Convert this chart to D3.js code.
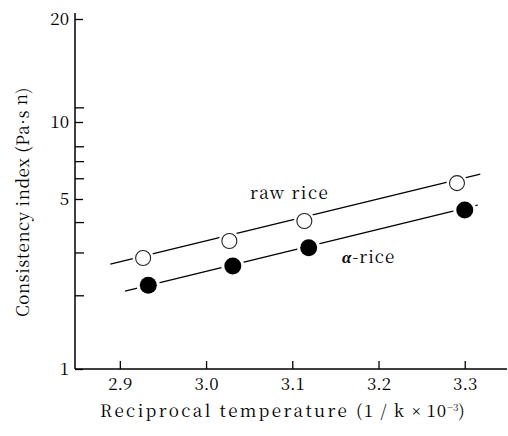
<!DOCTYPE html>
<html><head><meta charset="utf-8">
<script src="https://cdn.jsdelivr.net/npm/d3@7"></script>
<style>body{margin:0;background:#fff}svg{display:block}</style>
</head><body>
<svg id="chart" width="508" height="436"></svg>
<script>
// ---- data ----
const rawX = [2.927, 3.027, 3.114, 3.291];
const rawY = [2.86, 3.36, 4.06, 5.77];
const alphaX = [2.933, 3.031, 3.119, 3.300];
const alphaY = [2.21, 2.65, 3.15, 4.51];
const rawFitX = [2.889, 3.318];
const rawFitY = [2.70, 6.26];
const alphaFitX = [2.906, 3.315];
const alphaFitY = [2.09, 4.72];
const xTicks = [2.9, 3.0, 3.1, 3.2, 3.3];
const yLabels = [1, 5, 10, 20];
const yMinor = [2, 3, 4, 6, 7, 8, 11];

const SERIF = '"Noto Serif CJK JP", "Liberation Serif", serif';
const LATIN = '"Liberation Serif", serif';

const svg = d3.select("#chart");
const mLeft = 75, mRight = 507, mTop = 13, mBottom = 369;

const x = d3.scaleLinear().domain([2.848, 3.349]).range([mLeft, mRight]);
// hand-drawn log axis: labelled values placed where the figure places them
const y = d3.scaleLog().domain([1, 5, 10, 20]).range([mBottom, 199, 122, 19]);

// axes
const xAxis = d3.axisBottom(x).tickValues(xTicks).tickSize(-8).tickFormat(d3.format(".1f")).tickPadding(9);
const gx = svg.append("g").attr("transform", `translate(0,${mBottom})`).call(xAxis);
gx.select(".domain").attr("d", `M${mLeft},0H${mRight}`).attr("stroke-width", 1.5);
gx.selectAll(".tick line").attr("stroke-width", 1.3);
gx.selectAll("text").style("font-family", SERIF).style("font-size", "17px").attr("fill", "#000");

const yAxis = d3.axisLeft(y).tickValues(yLabels).tickSize(-8).tickFormat(d3.format("d")).tickPadding(6);
const gy = svg.append("g").attr("transform", `translate(${mLeft},0)`).call(yAxis);
gy.select(".domain").attr("d", `M0,${mTop}V${mBottom}`).attr("stroke-width", 1.5);
gy.selectAll(".tick line").attr("stroke-width", 1.3);
gy.selectAll("text").style("font-family", SERIF).style("font-size", "17px").attr("fill", "#000");

svg.append("g").selectAll("line").data(yMinor).join("line")
  .attr("x1", mLeft).attr("x2", mLeft + 9)
  .attr("y1", d => y(d)).attr("y2", d => y(d))
  .attr("stroke", "#000").attr("stroke-width", 1.3);

// fit lines
const line = d3.line().x(d => x(d[0])).y(d => y(d[1]));
svg.append("path").datum(d3.zip(rawFitX, rawFitY)).attr("d", line)
  .attr("fill", "none").attr("stroke", "#000").attr("stroke-width", 1.3);
svg.append("path").datum(d3.zip(alphaFitX, alphaFitY)).attr("d", line)
  .attr("fill", "none").attr("stroke", "#000").attr("stroke-width", 1.4);

// white halos so the lines stop short of the markers
const allPts = d3.zip(rawX, rawY).map(p => [...p, 7.5]).concat(d3.zip(alphaX, alphaY).map(p => [...p, 8.5]));
svg.append("g").selectAll("circle").data(allPts).join("circle")
  .attr("cx", d => x(d[0])).attr("cy", d => y(d[1])).attr("r", d => d[2] + 3)
  .attr("fill", "#fff");

svg.append("g").selectAll("circle").data(d3.zip(rawX, rawY)).join("circle")
  .attr("cx", d => x(d[0])).attr("cy", d => y(d[1])).attr("r", 7.5)
  .attr("fill", "#fff").attr("stroke", "#222").attr("stroke-width", 1.1);
svg.append("g").selectAll("circle").data(d3.zip(alphaX, alphaY)).join("circle")
  .attr("cx", d => x(d[0])).attr("cy", d => y(d[1])).attr("r", 8.5)
  .attr("fill", "#000");

// series labels
svg.append("text").attr("x", 250).attr("y", 199)
  .style("font-family", SERIF).style("font-size", "17px").style("letter-spacing", "1.5px")
  .text("raw rice");
const al = svg.append("text").attr("x", 342).attr("y", 263)
  .style("font-family", SERIF).style("font-size", "17px").style("letter-spacing", "1px");
al.append("tspan").style("font-family", LATIN).style("font-weight", "bold").style("font-style", "italic").text("α");
al.append("tspan").text("-rice");

// axis titles
const xt = svg.append("text").attr("x", 100).attr("y", 417)
  .style("font-family", SERIF).style("font-size", "17px");
xt.append("tspan").style("letter-spacing", "2.4px").text("Reciprocal temperature ");
xt.append("tspan").style("letter-spacing", "1.5px").text("(1 / k ");
xt.append("tspan").style("font-family", LATIN).text("×");
xt.append("tspan").style("letter-spacing", "1px").text(" 10");
xt.append("tspan").attr("dy", -6).style("font-size", "10px").text("−3");
xt.append("tspan").attr("dy", 6).text(")");

const yt = svg.append("text").attr("transform", "translate(29,317) rotate(-90)")
  .style("font-family", SERIF).style("font-size", "17px").style("letter-spacing", "0.5px");
yt.append("tspan").text("Consistency index (Pa");
yt.append("tspan").style("font-family", LATIN).text("·");
yt.append("tspan").text("s ");
yt.append("tspan").attr("dy", -2).text("n");
yt.append("tspan").attr("dy", 2).text(")");
</script>
</body></html>
